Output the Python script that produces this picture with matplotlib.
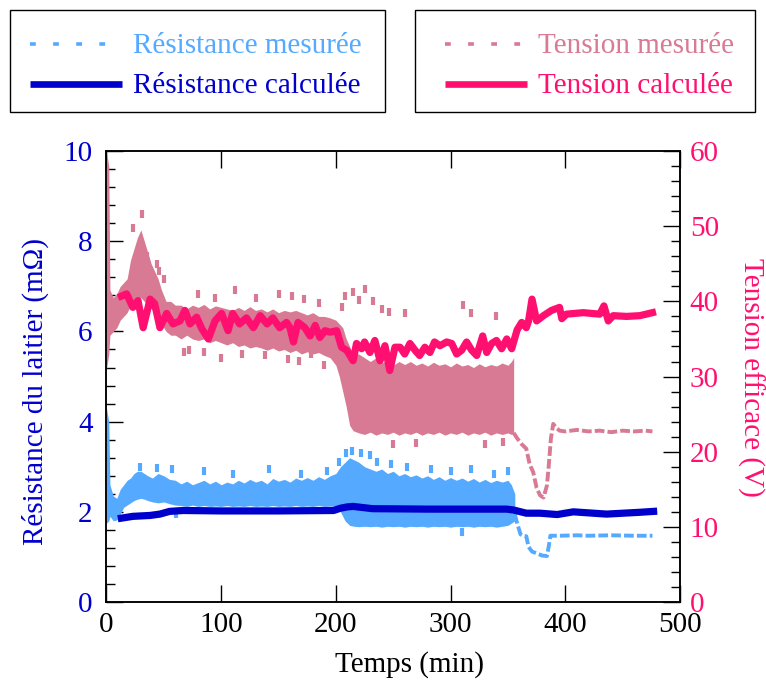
import matplotlib
matplotlib.use('Agg')
import matplotlib.pyplot as plt
from matplotlib.lines import Line2D
from matplotlib.patches import Rectangle
from matplotlib.ticker import MultipleLocator

plt.rcParams['font.family'] = ['Liberation Serif', 'DejaVu Serif']

# ---------------- data ----------------
# Measured resistance (mOhm): envelope of the noisy band
t_rm = [0, 2, 3, 6, 9, 12, 15, 18, 21, 24, 27, 30, 33, 36, 40, 45, 50, 55, 60, 65,
        70, 75, 80, 85, 90, 95, 100, 105, 110, 115, 120, 125, 130, 135, 140, 145,
        150, 155, 160, 165, 170, 175, 180, 185, 190, 195, 200, 204, 208, 212, 216,
        220, 225, 230, 235, 240, 245, 250, 255, 260, 265, 270, 275, 280, 285, 290,
        295, 300, 305, 310, 315, 320, 325, 330, 335, 340, 345, 350, 353, 356]
rm_low = [1.75, 1.8, 1.9, 1.8, 1.82, 1.95, 2.1, 2.15, 2.2, 2.25, 2.28, 2.3, 2.28, 2.25,
          2.22, 2.2, 2.22, 2.18, 2.15, 2.14, 2.12, 2.15, 2.12, 2.14, 2.12, 2.13, 2.12,
          2.14, 2.12, 2.13, 2.12, 2.14, 2.12, 2.13, 2.12, 2.14, 2.12, 2.13, 2.12, 2.14,
          2.12, 2.13, 2.12, 2.14, 2.12, 2.13, 2.12, 2.0, 1.8, 1.7, 1.68, 1.67, 1.68,
          1.67, 1.68, 1.66, 1.68, 1.67, 1.68, 1.66, 1.68, 1.67, 1.68, 1.66, 1.68, 1.67,
          1.68, 1.66, 1.68, 1.67, 1.68, 1.66, 1.68, 1.67, 1.68, 1.66, 1.68, 1.7, 1.75, 1.8]
rm_high = [4.3, 4.0, 2.6, 2.35, 2.3, 2.5, 2.6, 2.7, 2.75, 2.85, 2.9, 2.9, 2.85, 2.8,
           2.75, 2.85, 2.8, 2.72, 2.7, 2.62, 2.68, 2.6, 2.65, 2.7, 2.62, 2.68, 2.6,
           2.66, 2.62, 2.7, 2.64, 2.72, 2.66, 2.7, 2.62, 2.74, 2.68, 2.72, 2.66, 2.75,
           2.7, 2.76, 2.7, 2.78, 2.72, 2.8, 2.85, 3.0, 3.1, 3.2, 3.15, 3.1, 3.0, 2.95,
           2.9, 2.95, 2.85, 2.9, 2.8, 2.85, 2.78, 2.82, 2.75, 2.8, 2.72, 2.78, 2.7,
           2.76, 2.7, 2.75, 2.68, 2.74, 2.66, 2.72, 2.65, 2.7, 2.66, 2.7, 2.6, 2.4]
# Measured resistance: isolated spikes
t_rm_out = [29, 44, 57, 61, 85, 110, 142, 170, 192, 203, 209, 214, 222, 230, 236, 248,
            262, 283, 300, 310, 318, 338, 350]
rm_out = [3.0, 2.98, 2.95, 1.95, 2.9, 2.85, 2.95, 2.85, 2.9, 3.1, 3.3, 3.35, 3.3, 3.25,
          3.1, 3.05, 3.0, 2.95, 2.9, 1.55, 2.95, 2.85, 2.9]
# Measured resistance: end of the run
t_rm_end = [356, 358, 361, 364, 366, 368, 371, 375, 380, 384, 385.5, 387, 395, 410, 420,
            440, 460, 476]
rm_end = [1.95, 1.75, 1.5, 1.46, 1.46, 1.22, 1.12, 1.08, 1.03, 1.02, 1.22, 1.47, 1.47,
          1.48, 1.47, 1.48, 1.47, 1.47]

# Calculated resistance (mOhm)
t_rc = [13, 23, 38, 46.6, 55, 67, 100, 150, 198, 204, 210, 215, 232, 280, 349, 355, 366,
        378, 393, 407, 436, 465, 477]
rc = [1.86, 1.9, 1.92, 1.95, 2.01, 2.03, 2.02, 2.02, 2.03, 2.08, 2.11, 2.12, 2.07, 2.06,
      2.06, 2.04, 1.97, 1.97, 1.94, 2.0, 1.95, 1.99, 2.01]

# Measured voltage (V): envelope of the noisy band
t_tm = [0, 2, 3, 6, 9, 12, 15, 18, 21, 24, 27, 30, 33, 36, 39, 42, 45, 48, 52, 56, 60,
        65, 70, 75, 80, 85, 90, 95, 100, 105, 110, 115, 120, 125, 130, 135, 140, 145,
        150, 155, 160, 165, 170, 175, 180, 185, 190, 195, 200, 203, 206, 209, 212, 215,
        220, 225, 230, 235, 240, 245, 250, 255, 260, 265, 270, 275, 280, 285, 290, 295,
        300, 305, 310, 315, 320, 325, 330, 335, 340, 345, 350, 353, 355]
tm_low = [31, 33, 35.5, 36, 36.5, 37.5, 38, 38.5, 39.5, 40, 40, 40.5, 40, 39.5, 39,
          38.5, 37.5, 37, 36, 35.5, 35.5, 35, 35.5, 35, 34.8, 35, 34.5, 34.8, 34.5, 34.2,
          34.5, 34, 34.2, 33.8, 34, 33.8, 33.5, 33.8, 33.4, 33.6, 33.2, 33.5, 33.0, 33.3,
          33.0, 33.2, 32.8, 32.5, 31.5, 30, 28, 26, 23.5, 22.8, 22.5, 22.3, 22.6, 22.2,
          22.5, 22.3, 22.6, 22.2, 22.5, 22.3, 22.6, 22.2, 22.5, 22.3, 22.6, 22.2, 22.5,
          22.3, 22.6, 22.2, 22.5, 22.3, 22.6, 22.2, 22.5, 22.3, 22.5, 22.3, 22.5]
tm_high = [60, 58, 41.5, 40.5, 41, 42, 42.5, 43, 45.5, 47, 48.5, 49.5, 48, 46.5, 45, 44,
           43, 41.5, 40, 40, 39.5, 39.5, 39, 39.5, 39.2, 39.6, 39, 39.4, 39.2, 39, 38.8,
           39.2, 38.8, 39.3, 38.8, 39, 38.6, 39, 38.5, 38.8, 38.6, 38.8, 38.5, 38.2, 38.5,
           38, 38, 37.8, 37.5, 37, 36.5, 35, 34, 33, 33, 32.5, 32, 32.5, 31.8, 32.2, 31.5,
           32, 31.6, 32, 31.5, 31.8, 31.4, 31.9, 31.5, 31.7, 31.3, 31.8, 31.4, 31.6, 31.2,
           31.7, 31.3, 31.6, 31.4, 31.8, 31.5, 32, 32.5]
# Measured voltage: isolated spikes
t_tm_out = [23, 29, 31, 35, 44, 46, 50, 68, 72, 80, 85, 95, 100, 112, 118, 130, 138, 150,
            158, 162, 168, 172, 178, 185, 190, 205, 208, 215, 220, 225, 232, 240, 246,
            250, 260, 270, 311, 318, 330, 340, 346]
tm_out = [49.8, 47, 51.6, 46, 45, 44, 43, 33.2, 33.5, 41, 33.3, 40.5, 32.5, 41.5, 33,
          40.5, 32.8, 41, 32.3, 40.7, 32.1, 40.3, 33, 39.8, 31.6, 39.3, 40.7, 41.2, 40.2,
          41.7, 40, 39, 38.6, 21, 38.5, 21.2, 39.5, 38.5, 21, 38, 21.3]
# Measured voltage: end of the run
t_tm_end = [355, 358, 362, 366, 369, 372, 375, 378, 381, 384, 385.5, 387.5, 389.5, 392,
            395, 400, 410, 420, 430, 440, 450, 460, 470, 476]
tm_end = [22.5, 21.8, 21.0, 20.4, 18.3, 17.3, 15.2, 14.2, 13.9, 15.5, 18, 21.8, 23.7,
          23.2, 22.8, 22.7, 22.9, 22.7, 22.8, 22.6, 22.8, 22.7, 22.8, 22.7]

# Calculated voltage (V)
t_tc = [13, 17.6, 23, 27.5, 32, 38, 42, 46.6, 52.5, 58, 64, 68.4, 72.8, 78.6, 83, 88.8,
        94.6, 100.4, 106, 110, 116, 122, 128, 134, 140, 145, 151, 157, 160, 163, 167,
        173, 177.5, 182, 186, 190.5, 195, 200.7, 205, 209.4, 215, 218, 222.5, 225,
        229.7, 234, 238.5, 242.8, 247, 251.5, 256, 260, 264.6, 269, 273, 277.6, 282,
        286, 290.7, 296.6, 301, 305.3, 309.7, 314, 318.4, 322.8, 328, 331.5, 335.8, 340,
        344.5, 349, 353.3, 358, 362, 366, 368, 371, 375, 381, 388, 395, 397, 401, 415.7,
        430, 433.7, 437.5, 441.8, 453.5, 465, 476]
tc = [40.7, 41.0, 39.2, 40.1, 36.5, 40.3, 39.7, 36.5, 38.4, 37.0, 37.4, 38.8, 37.0, 37.9,
      36.4, 35.0, 37.4, 38.4, 36.1, 38.4, 37.0, 37.8, 36.5, 38.1, 37.0, 37.8, 36.5, 37.2,
      36.5, 34.6, 37.2, 36.5, 35.4, 36.8, 35.2, 36.1, 35.9, 36.1, 33.9, 33.5, 32.1, 34.4,
      33.7, 34.6, 33.2, 34.8, 32.1, 34.1, 30.8, 33.9, 33.9, 33.0, 34.4, 33.5, 32.8, 33.9,
      33.2, 34.6, 34.1, 34.6, 34.4, 33.0, 33.5, 34.6, 33.5, 32.8, 35.4, 33.2, 34.4, 34.8,
      33.7, 35.0, 33.7, 36.2, 37.2, 36.5, 37.4, 40.3, 37.4, 38.1, 38.8, 39.2, 37.7, 38.3,
      38.5, 38.3, 39.4, 37.4, 38.1, 38.0, 38.1, 38.5]

x_ticks = [0, 100, 200, 300, 400, 500]
r_ticks = [0, 2, 4, 6, 8, 10]
v_ticks = [0, 10, 20, 30, 40, 50, 60]

# ---------------- styles ----------------
C_RM = '#55AAFF'
C_RC = '#0000CC'
C_TM = '#D87A93'
C_TC = '#FF1070'
FS = 21

fig = plt.figure(figsize=(7.66, 6.86), dpi=100)
ax = fig.add_axes([0.139, 0.1224, 0.7487, 0.6574])
ax2 = ax.twinx()

# resistance
ax.fill_between(t_rm, rm_low, rm_high, color=C_RM, lw=0, zorder=2)
ax.plot(t_rm_out, rm_out, ls='none', marker='|', ms=6, mew=3, color=C_RM, zorder=2)
ax.plot(t_rm_end, rm_end, color=C_RM, lw=2.8, dashes=(2.5, 0.8), zorder=2)
ax.plot(t_rc, rc, color=C_RC, lw=5.2, zorder=4)

# voltage
ax2.fill_between(t_tm, tm_low, tm_high, color=C_TM, lw=0, zorder=2)
ax2.plot(t_tm_out, tm_out, ls='none', marker='|', ms=6, mew=3, color=C_TM, zorder=2)
ax2.plot(t_tm_end, tm_end, color=C_TM, lw=2.8, dashes=(2.5, 0.8), zorder=2)
ax2.plot(t_tc, tc, color=C_TC, lw=5.2, zorder=4)

ax.set_xlim(0, 500)
ax.set_ylim(0, 10)
ax2.set_ylim(0, 60)
ax.set_xticks(x_ticks)
ax.set_yticks(r_ticks)
ax2.set_yticks(v_ticks)
ax.yaxis.set_minor_locator(MultipleLocator(0.4))
ax2.yaxis.set_minor_locator(MultipleLocator(2))

ax.tick_params(axis='x', direction='in', length=12, width=1, top=True, labelsize=FS,
               pad=7, labelcolor='black')
ax.tick_params(axis='y', which='major', direction='in', length=12, width=1,
               labelsize=FS, pad=10, labelcolor=C_RC)
ax.tick_params(axis='y', which='minor', direction='in', length=6.5, width=1)
ax2.tick_params(axis='y', which='major', direction='in', length=12, width=1,
                labelsize=FS, pad=7, labelcolor=C_TC)
ax2.tick_params(axis='y', which='minor', direction='in', length=6.5, width=1)

for a in (ax, ax2):
    for s in a.spines.values():
        s.set_linewidth(1.1)

ax.set_xlabel('Temps (min)', fontsize=FS)
ax.xaxis.set_label_coords(0.529, -0.108)
ax.set_ylabel('Résistance du laitier (mΩ)', fontsize=FS, color=C_RC)
ax.yaxis.label.set_va('center')
ax.yaxis.label.set_ha('center')
ax.yaxis.set_label_coords(-0.124, 0.466)
ax2.set_ylabel('Tension efficace (V)', fontsize=FS, color=C_TC, rotation=270)
ax2.yaxis.label.set_va('center')
ax2.yaxis.label.set_ha('center')
ax2.yaxis.set_label_coords(1.123, 0.497)

# ---------------- legends (two framed boxes) ----------------
W, H = 766.0, 686.0
def fx(px):
    return px / W
def fy(py):
    return 1 - py / H

def legend_box(x0, x1, line_x0, line_x1, text_x, entries):
    fig.add_artist(Rectangle((fx(x0), fy(112)), fx(x1) - fx(x0), fy(10) - fy(112),
                             transform=fig.transFigure, fill=False, ec='black', lw=1))
    for (label, color, style), ly, by in zip(entries, (44, 84), (53, 93)):
        if style == 'dot':
            fig.add_artist(Line2D([fx(line_x0), fx(line_x1)], [fy(ly), fy(ly)],
                                  transform=fig.transFigure, color=color, lw=2.6,
                                  dashes=(1.6, 4.8)))
        else:
            fig.add_artist(Line2D([fx(line_x0), fx(line_x1)], [fy(ly), fy(ly)],
                                  transform=fig.transFigure, color=color, lw=4.8,
                                  solid_capstyle='butt'))
        fig.text(fx(text_x), fy(by), label, color=color, fontsize=FS, va='baseline',
                 ha='left')

legend_box(10, 385, 30, 122, 133,
           [('Résistance mesurée', C_RM, 'dot'), ('Résistance calculée', C_RC, 'line')])
legend_box(415, 755, 445, 527, 538,
           [('Tension mesurée', C_TM, 'dot'), ('Tension calculée', C_TC, 'line')])

fig.savefig('out.png', dpi=100)
